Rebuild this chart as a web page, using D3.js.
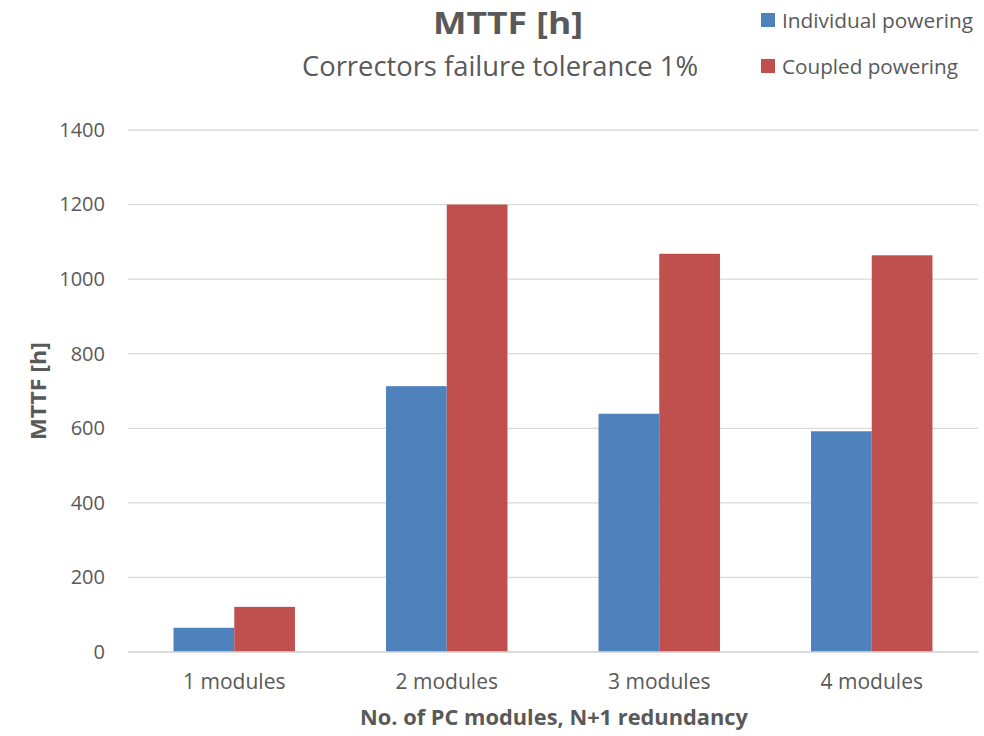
<!DOCTYPE html>
<html>
<head>
<meta charset="utf-8">
<script src="https://cdn.jsdelivr.net/npm/d3@7/dist/d3.min.js"></script>
<style>
  html, body { margin: 0; padding: 0; background: #fff; }
  svg text { font-family: "Open Sans", sans-serif; fill: #595959; }
</style>
</head>
<body>
<svg id="chart" width="984" height="736"></svg>
<script>
const categories = ["1 modules", "2 modules", "3 modules", "4 modules"];
const seriesNames = ["Individual powering", "Coupled powering"];
const individualValues = [65, 713, 639, 592];
const coupledValues = [121, 1200, 1068, 1064];
const seriesColors = ["#4F81BD", "#C0504D"];
const yTicks = [0, 200, 400, 600, 800, 1000, 1200, 1400];

const FONT = "'Open Sans', sans-serif";
const svg = d3.select("#chart");
const margin = { left: 128, right: 6, top: 130, bottom: 84 };
const W = 984, H = 736;

const x = d3.scaleBand().domain(categories).range([margin.left, W - margin.right]).paddingInner(0).paddingOuter(0);
const x1 = d3.scaleBand().domain(seriesNames).range([0, x.bandwidth()]).paddingInner(0).paddingOuter(0.75);
const y = d3.scaleLinear().domain([0, 1400]).range([H - margin.bottom, margin.top]);

// gridlines
svg.append("g").selectAll("line").data(yTicks).join("line")
  .attr("x1", margin.left).attr("x2", W - margin.right)
  .attr("y1", d => y(d)).attr("y2", d => y(d))
  .attr("stroke", "#D9D9D9").attr("stroke-width", 1.3);

// y tick labels
const yAxis = d3.axisLeft(y).tickValues(yTicks).tickFormat(d3.format("d")).tickSize(0).tickPadding(23);
const gy = svg.append("g").attr("transform", `translate(${margin.left},0)`).call(yAxis);
gy.select(".domain").remove();
gy.selectAll("text").attr("font-size", 20).style("fill", "#595959").style("font-family", FONT);

// bars
const data = categories.map((c, i) => ({ c, vals: [individualValues[i], coupledValues[i]] }));
const groups = svg.append("g").selectAll("g").data(data).join("g")
  .attr("transform", d => `translate(${x(d.c)},0)`);
groups.selectAll("rect").data(d => d.vals.map((v, j) => ({ v, s: seriesNames[j], j })))
  .join("rect")
  .attr("x", d => x1(d.s)).attr("width", x1.bandwidth())
  .attr("y", d => y(d.v)).attr("height", d => y(0) - y(d.v))
  .attr("fill", d => seriesColors[d.j]);

// x axis line
svg.append("line").attr("x1", margin.left).attr("x2", W - margin.right)
  .attr("y1", y(0)).attr("y2", y(0)).attr("stroke", "#D9D9D9").attr("stroke-width", 1.3);

// x tick labels
const xAxis = d3.axisBottom(x).tickSize(0).tickPadding(22);
const gx = svg.append("g").attr("transform", `translate(0,${y(0)})`).call(xAxis);
gx.select(".domain").remove();
gx.selectAll("text").attr("font-size", 21).style("fill", "#595959").style("font-family", FONT);

// titles
svg.append("text").attr("x", 508).attr("y", 34).attr("text-anchor", "middle")
  .attr("font-size", 30).attr("font-weight", "bold")
  .attr("textLength", 150).attr("lengthAdjust", "spacingAndGlyphs").text("MTTF [h]");
svg.append("text").attr("x", 500).attr("y", 76).attr("text-anchor", "middle")
  .attr("font-size", 28)
  .attr("textLength", 396).attr("lengthAdjust", "spacingAndGlyphs").text("Correctors failure tolerance 1%");

// axis titles
svg.append("text").attr("x", 554).attr("y", 725).attr("text-anchor", "middle")
  .attr("font-size", 21).attr("font-weight", "bold")
  .attr("textLength", 388).attr("lengthAdjust", "spacingAndGlyphs").text("No. of PC modules, N+1 redundancy");
svg.append("text").attr("transform", `translate(46,391) rotate(-90)`).attr("text-anchor", "middle")
  .attr("font-size", 21).attr("font-weight", "bold")
  .attr("textLength", 98).attr("lengthAdjust", "spacingAndGlyphs").text("MTTF [h]");

// legend
const legendLengths = [191, 176];
const legend = svg.append("g").selectAll("g").data(seriesNames).join("g")
  .attr("transform", (d, i) => `translate(761,${13 + i * 46})`);
legend.append("rect").attr("width", 14).attr("height", 14).attr("fill", (d, i) => seriesColors[i]);
legend.append("text").attr("x", 21).attr("y", 14.5).attr("font-size", 20)
  .attr("textLength", (d, i) => legendLengths[i]).attr("lengthAdjust", "spacingAndGlyphs").text(d => d);
</script>
</body>
</html>
